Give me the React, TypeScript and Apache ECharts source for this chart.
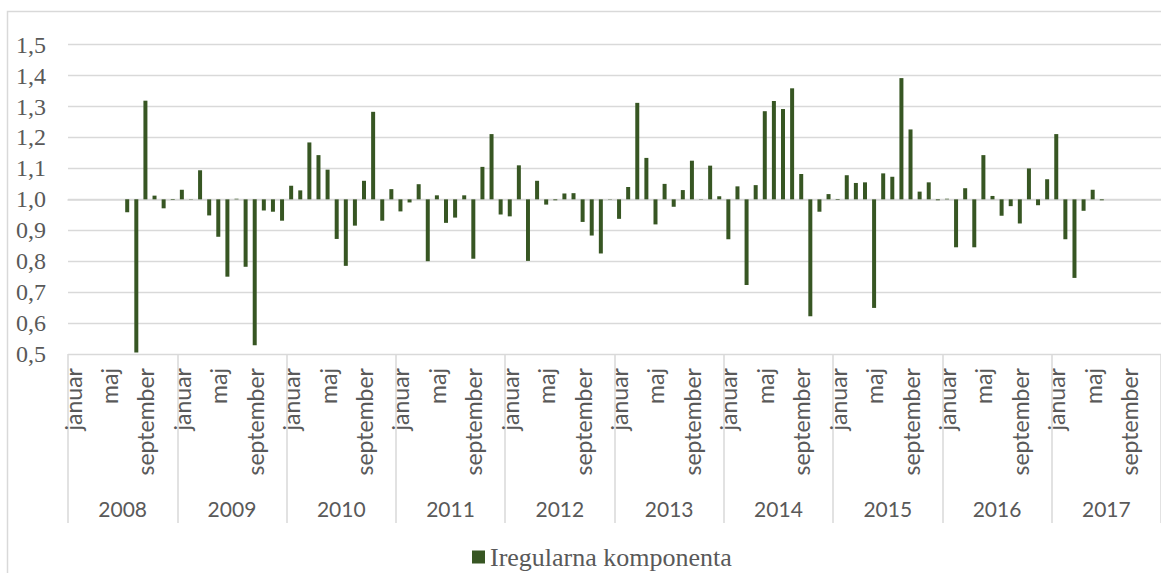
import React, { useEffect, useRef } from "react";
import * as echarts from "echarts";

const years = ["2008", "2009", "2010", "2011", "2012", "2013", "2014", "2015", "2016", "2017"];
const monthNames = ["januar", "februar", "marec", "april", "maj", "junij", "julij", "avgust", "september", "oktober", "november", "december"];

const v2008 = [null, null, null, null, null, null, 0.958, 0.505, 1.319, 1.012, 0.971, 0.998];
const v2009 = [1.031, 0.999, 1.094, 0.948, 0.879, 0.75, 1.002, 0.782, 0.528, 0.964, 0.96, 0.931];
const v2010 = [1.044, 1.029, 1.184, 1.143, 1.096, 0.872, 0.785, 0.915, 1.06, 1.283, 0.931, 1.033];
const v2011 = [0.961, 0.99, 1.049, 0.8, 1.013, 0.924, 0.941, 1.013, 0.808, 1.105, 1.211, 0.951];
const v2012 = [0.945, 1.11, 0.801, 1.06, 0.983, 0.997, 1.019, 1.02, 0.927, 0.883, 0.825, 0.999];
const v2013 = [0.937, 1.04, 1.312, 1.134, 0.919, 1.05, 0.976, 1.03, 1.125, 1.001, 1.109, 1.01];
const v2014 = [0.871, 1.042, 0.723, 1.046, 1.285, 1.318, 1.292, 1.359, 1.082, 0.622, 0.96, 1.017];
const v2015 = [0.998, 1.078, 1.053, 1.055, 0.649, 1.084, 1.073, 1.392, 1.226, 1.025, 1.055, 0.997];
const v2016 = [1.002, 0.845, 1.036, 0.845, 1.143, 1.011, 0.947, 0.978, 0.922, 1.1, 0.981, 1.065];
const v2017 = [1.211, 0.871, 0.746, 0.963, 1.031, 0.997, null, null, null, null, null, null];

const seriesName = "Iregularna komponenta";
const baseline = 1;

const SERIF = "'Liberation Serif', 'Times New Roman', 'DejaVu Serif', serif";
const SANS = "Lato, 'Open Sans', sans-serif";

export default function App() {
  const ref = useRef<HTMLDivElement>(null);
  useEffect(() => {
    if (!ref.current) return;
    const chart = echarts.init(ref.current, null, { renderer: "svg" });
    const all = [v2008, v2009, v2010, v2011, v2012, v2013, v2014, v2015, v2016, v2017].flat();
    const categories: string[] = [];
    years.forEach(() => monthNames.forEach((m) => categories.push(m)));
    const data = all.map((v) => (v == null ? null : +(v - baseline).toFixed(4)));
    const grey = "#595959";
    const line = "#d9d9d9";
    chart.setOption({
      animation: false,
      backgroundColor: "#ffffff",
      graphic: [
        {
          type: "rect",
          shape: { x: 7.5, y: 11.5, width: 1300, height: 700 },
          style: { fill: "none", stroke: line, lineWidth: 1.5 },
          silent: true,
          z: -10,
        },
      ],
      grid: { left: 68, right: 0, top: 44.7, bottom: 219, containLabel: false },
      legend: {
        data: [seriesName],
        left: 467,
        top: 538,
        icon: "rect",
        itemWidth: 13,
        itemHeight: 13,
        itemGap: 6,
        textStyle: { fontFamily: SERIF, fontSize: 26, color: grey, lineHeight: 28 },
      },
      xAxis: [
        {
          type: "category",
          data: categories,
          boundaryGap: true,
          axisLine: { show: true, lineStyle: { color: line, width: 1.5 } },
          axisTick: { show: false },
          axisLabel: {
            interval: 3,
            rotate: 90,
            margin: 14,
            fontFamily: SANS,
            fontSize: 23,
            color: grey,
          },
        },
        {
          type: "category",
          data: years,
          position: "bottom",
          boundaryGap: true,
          axisLine: { show: false },
          axisTick: { show: true, interval: 0, length: 169, lineStyle: { color: line, width: 1.5 } },
          axisLabel: { interval: 0, margin: 144, fontFamily: SANS, fontSize: 21, color: grey },
        },
      ],
      yAxis: {
        type: "value",
        min: -0.5,
        max: 0.5,
        interval: 0.1,
        axisLine: { show: false },
        axisTick: { show: false },
        splitLine: { lineStyle: { color: line, width: 1.3 } },
        axisLabel: {
          margin: 22,
          fontFamily: SERIF,
          fontSize: 24,
          color: grey,
          formatter: (v: number) => (Math.round((v + baseline) * 10) / 10).toFixed(1).replace(".", ","),
        },
      },
      series: [
        {
          name: seriesName,
          type: "bar",
          xAxisIndex: 0,
          data,
          barWidth: 4,
          itemStyle: { color: "#375623" },
        },
      ],
    });
    return () => chart.dispose();
  }, []);
  return <div ref={ref} style={{ position: "fixed", left: 0, top: 0, width: 1161, height: 573 }} />;
}
